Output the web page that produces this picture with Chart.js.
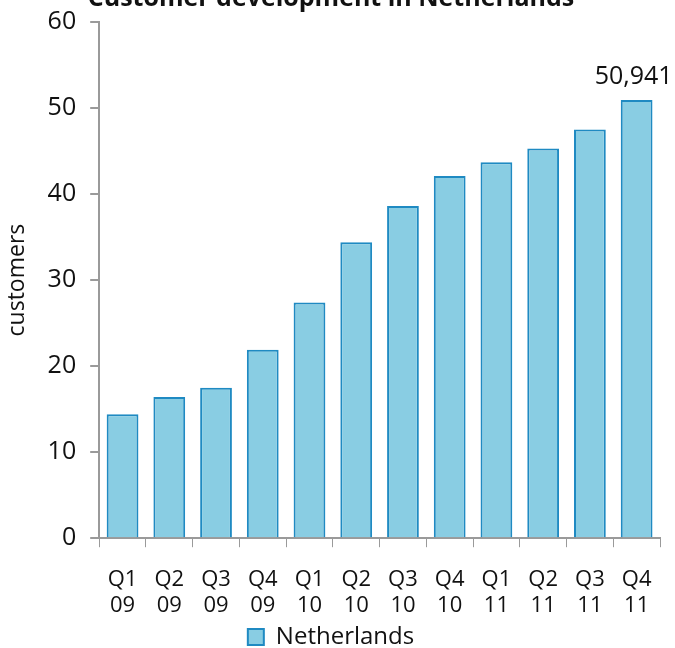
<!DOCTYPE html>
<html>
<head>
<meta charset="utf-8">
<script src="https://cdn.jsdelivr.net/npm/chart.js@4/dist/chart.umd.min.js"></script>
<style>
  html, body { margin: 0; padding: 0; background: #fff; }
  #wrap { width: 675px; height: 648px; overflow: hidden; position: relative; }
  #box { position: absolute; left: 0; top: -30px; width: 675px; height: 689px; }
</style>
</head>
<body>
<div id="wrap"><div id="box"><canvas id="grafico"></canvas></div></div>
<script>
// datos del gráfico (miles de clientes)
const trimestres = [
    ["Q1", "09"], ["Q2", "09"], ["Q3", "09"], ["Q4", "09"],
    ["Q1", "10"], ["Q2", "10"], ["Q3", "10"], ["Q4", "10"],
    ["Q1", "11"], ["Q2", "11"], ["Q3", "11"], ["Q4", "11"]
];
const clientesNL = [14.4, 16.4, 17.5, 21.9, 27.4, 34.4, 38.6, 42.1, 43.7, 45.3, 47.5, 50.941];
const etiquetaFinal = "50,941";
const ticksY = [0, 10, 20, 30, 40, 50, 60];

const fuente = "'Open Sans', 'DejaVu Sans', sans-serif";
const gris = '#9a9a9a';

// etiqueta encima de la última barra
const etiquetaUltima = {
    id: 'etiquetaUltima',
    afterDatasetsDraw(chart) {
        const meta = chart.getDatasetMeta(0);
        const barra = meta.data[meta.data.length - 1];
        const ctx = chart.ctx;
        ctx.save();
        ctx.font = '25px ' + fuente;
        ctx.fillStyle = '#111';
        ctx.textAlign = 'center';
        ctx.textBaseline = 'alphabetic';
        ctx.fillText(etiquetaFinal, barra.x - 3, barra.y - 16);
        ctx.restore();
    }
};

new Chart(document.getElementById('grafico'), {
    type: 'bar',
    data: {
        labels: trimestres,
        datasets: [{
            label: 'Netherlands',
            data: clientesNL,
            backgroundColor: '#89cde3',
            borderColor: '#1f8ac2',
            borderWidth: 2,
            borderSkipped: 'bottom',
            categoryPercentage: 0.68,
            barPercentage: 1.0
        }]
    },
    options: {
        responsive: true,
        maintainAspectRatio: false,
        animation: false,
        layout: { padding: { left: 2, right: 15, top: 0, bottom: 0 } },
        plugins: {
            title: {
                display: true,
                text: 'Customer development in Netherlands',
                color: '#111',
                font: { family: fuente, size: 25, weight: 'bold' },
                padding: { top: 14, bottom: 8 }
            },
            legend: {
                position: 'bottom',
                labels: {
                    color: '#111',
                    font: { family: fuente, size: 24 },
                    boxWidth: 16,
                    boxHeight: 16,
                    padding: 0
                }
            },
            tooltip: { enabled: false }
        },
        scales: {
            x: {
                // acercar la leyenda a las etiquetas
                afterFit(scale) { scale.height -= 13; },
                grid: {
                    offset: true,
                    drawOnChartArea: false,
                    color: gris,
                    tickLength: 9
                },
                border: { color: gris, width: 2 },
                ticks: {
                    color: '#111',
                    font: { family: fuente, size: 22, lineHeight: 1.2 },
                    maxRotation: 0,
                    autoSkip: false,
                    padding: 19
                }
            },
            y: {
                min: 0,
                max: 60,
                afterBuildTicks(axis) { axis.ticks = ticksY.map(v => ({ value: v })); },
                grid: {
                    drawOnChartArea: false,
                    color: gris,
                    tickLength: 9,
                    lineWidth: 2
                },
                border: { color: gris, width: 2 },
                ticks: {
                    color: '#111',
                    font: { family: fuente, size: 25 },
                    padding: 14
                },
                title: {
                    display: true,
                    text: 'customers',
                    color: '#111',
                    font: { family: fuente, size: 23 },
                    padding: 2
                }
            }
        }
    },
    plugins: [etiquetaUltima]
});
</script>
</body>
</html>
